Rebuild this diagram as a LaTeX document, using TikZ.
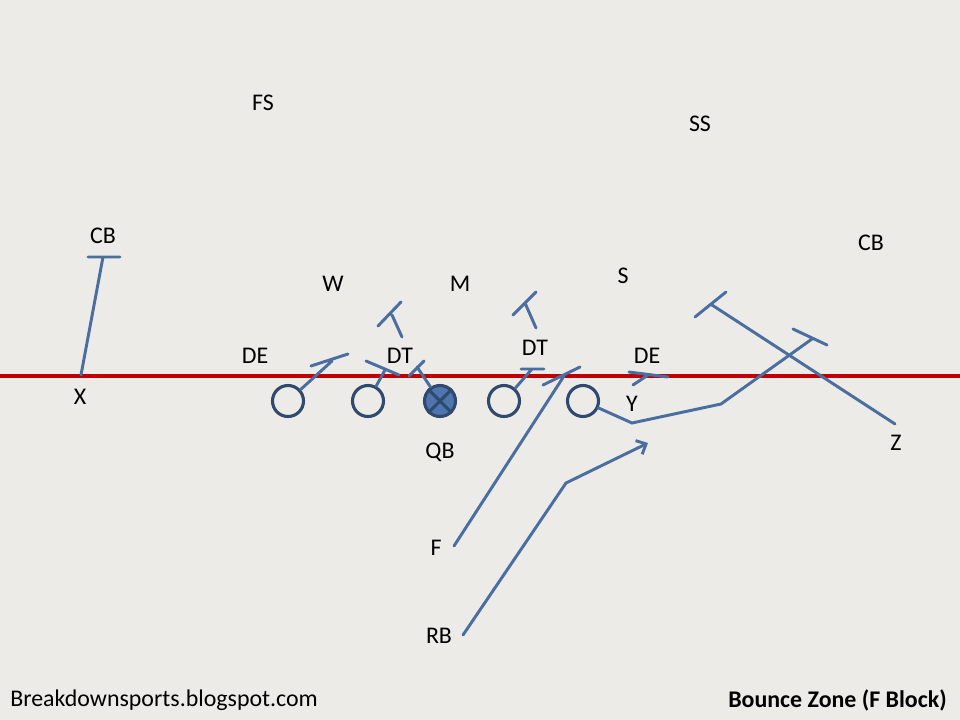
\documentclass[tikz,border=0pt]{standalone}
\usepackage{fontspec}
\setmainfont{Carlito}
\usetikzlibrary{arrows.meta}

\definecolor{field}{HTML}{EDEBE8}
\definecolor{routeblue}{HTML}{4A6E9F}
\definecolor{olnavy}{HTML}{2F4A6E}
\definecolor{qbfill}{HTML}{4F75AD}
\definecolor{losred}{HTML}{C00000}

\begin{document}
\begin{tikzpicture}[
    x=0.025cm, y=-0.025cm,
    every node/.style={font=\fontsize{17}{19}\selectfont, inner sep=0pt},
    player/.style={circle, draw=olnavy, fill=field, line width=2.2pt, minimum size=0.775cm},
    route/.style={draw=routeblue, line width=2.1pt, line cap=round},
    lead/.style={route, -{Straight Barb[length=0.2cm, width=0.38cm]}},
    scrimmage/.style={draw=losred, line width=2.3pt}
]

% --- Campo (fondo) y linea de scrimmage
\fill[field] (0,0) rectangle (960,720);
\useasboundingbox (0,0) rectangle (960,720);
\draw[scrimmage] (0,376) -- (960,376);

% --- Defensa
\node (fs) at (263,103) {FS};
\node (ss) at (700,124) {SS};
\node (cbl) at (103,236) {CB};
\node (cbr) at (871,243) {CB};
\node (w) at (333,284) {W};
\node (m) at (460,284) {M};
\node (s) at (623,276) {S};
\node (del) at (255,356) {DE};
\node (dtl) at (400,356) {DT};
\node (dtr) at (535,348) {DT};
\node (der) at (647,356) {DE};

% --- Ataque
\node[player] (lt) at (288,401) {};
\node[player] (lg) at (368,401) {};
\node[player, fill=qbfill] (ctr) at (440,401) {};
\draw[olnavy, line width=2.1pt] (ctr.45) -- (ctr.225) (ctr.135) -- (ctr.315);
\node[player] (rg) at (504,401) {};
\node[player] (rt) at (583,401) {};
\node (x) at (80,397) {X};
\node (y) at (632,404) {Y};
\node (z) at (896,443) {Z};
\node (qb) at (440,452) {QB};
\node (f) at (436,548) {F};
\node (rb) at (439,636) {RB};

% --- Puntos de las rutas
\coordinate (xs) at (81,375);   \coordinate (xe) at (103,257);
\coordinate (lte) at (332,361);
\coordinate (lge) at (385,370);
\coordinate (ce) at (417,367);
\coordinate (ws) at (402,337);  \coordinate (we) at (392,315);
\coordinate (ms) at (536,328);  \coordinate (me) at (525,303);
\coordinate (rge) at (532,369);
\coordinate (fs0) at (454,546); \coordinate (fe) at (564,376);
\coordinate (ds) at (633,385);  \coordinate (de) at (648,375);
\coordinate (y1) at (632,423);  \coordinate (y2) at (721,404);
\coordinate (ye) at (812,339);
\coordinate (zs) at (895,424);  \coordinate (ze) at (712,305);
\coordinate (rbs) at (463,635); \coordinate (rb1) at (566,483);
\coordinate (rbe) at (648,443);

% --- Bloqueos (tallo + barra)
\draw[route] (xs) -- (xe) ++(-15,0) -- ++(32,0);
\draw[route] (lt) -- (lte) ++(-21,5) -- ++(37,-12);
\draw[route] (lg) -- (lge) ++(-19,-9) -- ++(33,14);
\draw[route] (ctr) -- (ce) ++(-8,9) -- ++(15,-15);
\draw[route] (rg) -- (rge) ++(-11,0) -- ++(23,0);
\draw[route] (ws) -- (we) ++(-14,11) -- ++(23,-24);
\draw[route] (ms) -- (me) ++(-12,12) -- ++(23,-23);
\draw[route] (ds) -- (de) ++(-19,-3) -- ++(39,5);
\draw[route] (fs0) -- (fe) ++(-21,9) -- ++(37,-18);
\draw[route] (rt) -- (y1) -- (y2) -- (ye) ++(-19,-10) -- ++(34,16);
\draw[route] (zs) -- (ze) ++(-17,12) -- ++(31,-25);

% --- Ruta del RB
\draw[lead] (rbs) -- (rb1) -- (rbe);

% --- Pie
\node[anchor=west] (blog) at (10,700) {Breakdownsports.blogspot.com};
\node[anchor=east, font=\fontsize{17}{19}\selectfont\bfseries] (play) at (947,700) {Bounce Zone (F Block)};

\end{tikzpicture}
\end{document}
